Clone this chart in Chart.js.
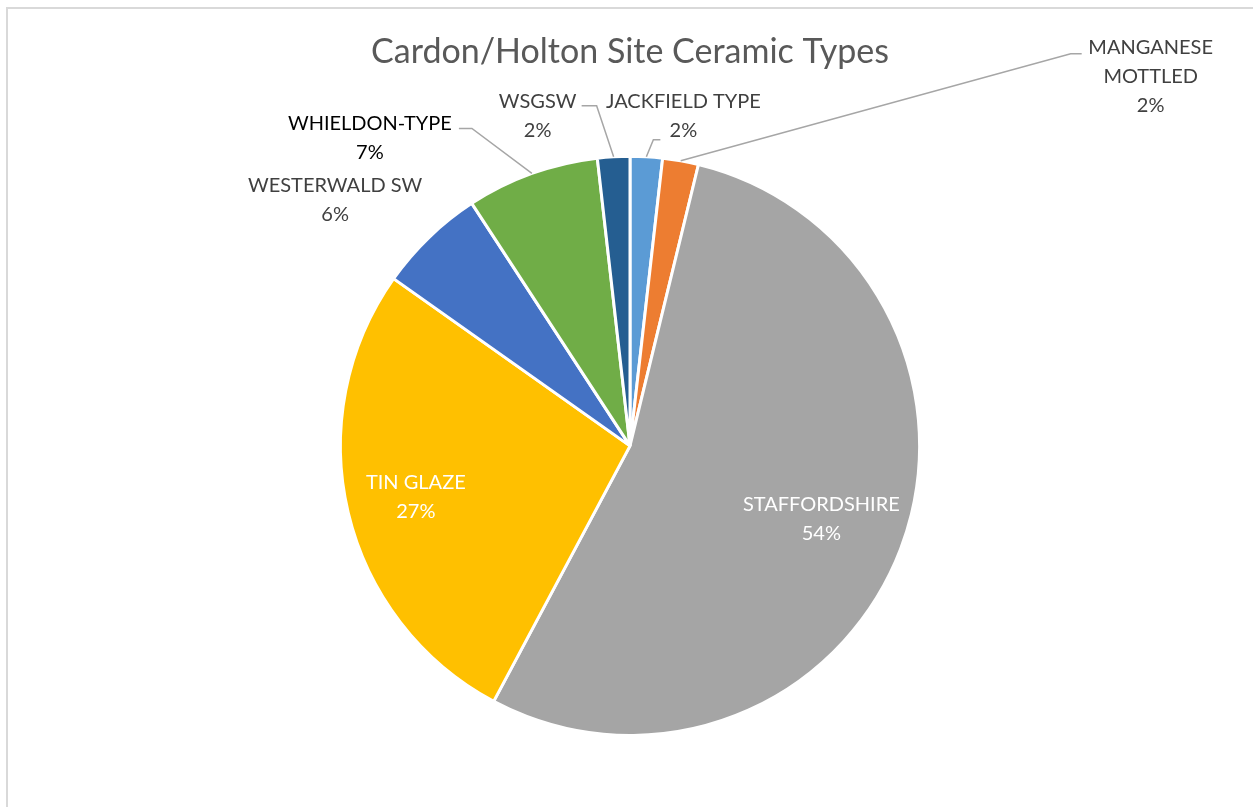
<!DOCTYPE html>
<html>
<head>
<meta charset="utf-8">
<script src="https://cdn.jsdelivr.net/npm/chart.js@4.4.1/dist/chart.umd.min.js"></script>
<style>
  html, body { margin: 0; padding: 0; background: #fff; overflow: hidden; }
  #frame { position: absolute; left: 6px; top: 7px; width: 1400px; height: 1000px; border: 2px solid #d9d9d9; box-sizing: border-box; }
  #wrap { position: absolute; left: 0; top: 0; width: 1253px; height: 807px; }
</style>
</head>
<body>
<div id="frame"></div>
<div id="wrap"><canvas id="ceramicChart"></canvas></div>
<script>
  const categories = ['JACKFIELD TYPE', 'MANGANESE MOTTLED', 'STAFFORDSHIRE', 'TIN GLAZE', 'WESTERWALD SW', 'WHIELDON-TYPE', 'WSGSW'];
  const shares = [1.8, 2.0, 54.0, 27.0, 6.0, 7.4, 1.8];
  const labelLines = [['JACKFIELD TYPE'], ['MANGANESE', 'MOTTLED'], ['STAFFORDSHIRE'], ['TIN GLAZE'], ['WESTERWALD SW'], ['WHIELDON-TYPE'], ['WSGSW']];
  const sliceColors = ['#5B9BD5', '#ED7D31', '#A5A5A5', '#FFC000', '#4472C4', '#70AD47', '#255E91'];

  // where each label sits, measured from the slice edge at its mid angle
  // (inside labels use a fraction of the radius instead)
  const placement = [
    { dx: 37, dy: -41, color: '#404040', leader: [[-23, 24], [-30, 24]] },
    { dx: 470, dy: -84, color: '#404040', leader: [[-69, -23], [-80, -23]] },
    { inside: 0.707, color: '#ffffff' },
    { inside: 0.76, color: '#ffffff' },
    { dx: -94, dy: -37, color: '#404040' },
    { dx: -162, dy: -35, color: '#000000', leader: [[89, -10], [102, -10]] },
    { dx: -76, dy: -41, color: '#404040', leader: [[44, -10], [59, -10]] }
  ];

  const total = shares.reduce((a, b) => a + b, 0);

  const pieLabels = {
    id: 'pieLabels',
    afterDatasetsDraw(chart) {
      const ctx = chart.ctx;
      const arcs = chart.getDatasetMeta(0).data;
      ctx.save();
      ctx.font = '20px Lato';
      ctx.textAlign = 'center';
      ctx.textBaseline = 'middle';
      arcs.forEach((arc, i) => {
        const p = placement[i];
        const mid = (arc.startAngle + arc.endAngle) / 2;
        const r = arc.outerRadius;
        let cx, cy;
        const ex = arc.x + Math.cos(mid) * r;
        const ey = arc.y + Math.sin(mid) * r;
        if (p.inside) {
          cx = arc.x + Math.cos(mid) * r * p.inside;
          cy = arc.y + Math.sin(mid) * r * p.inside;
        } else {
          cx = ex + p.dx;
          cy = ey + p.dy;
        }
        if (p.leader) {
          ctx.strokeStyle = '#a6a6a6';
          ctx.lineWidth = 1.5;
          ctx.beginPath();
          ctx.moveTo(cx + p.leader[0][0], cy + p.leader[0][1]);
          ctx.lineTo(cx + p.leader[1][0], cy + p.leader[1][1]);
          ctx.lineTo(ex, ey);
          ctx.stroke();
        }
        const pct = Math.round(shares[i] / total * 100) + '%';
        const lines = labelLines[i].concat([pct]);
        const lh = 29;
        const top = cy - (lines.length - 1) * lh / 2;
        ctx.fillStyle = p.color;
        lines.forEach((t, k) => ctx.fillText(t, cx, top + k * lh));
      });
      ctx.restore();
    }
  };

  new Chart(document.getElementById('ceramicChart'), {
    type: 'pie',
    data: {
      labels: categories,
      datasets: [{
        data: shares,
        backgroundColor: sliceColors,
        borderColor: '#ffffff',
        borderWidth: 3
      }]
    },
    options: {
      responsive: true,
      maintainAspectRatio: false,
      animation: false,
      layout: { padding: { left: 7, right: 0, top: 0, bottom: 70 } },
      plugins: {
        legend: { display: false },
        tooltip: { enabled: false },
        title: {
          display: true,
          text: 'Cardon/Holton Site Ceramic Types',
          color: '#595959',
          font: { family: 'Lato', size: 34, weight: 'normal' },
          padding: { top: 32, bottom: 82 }
        }
      }
    },
    plugins: [pieLabels]
  });
</script>
</body>
</html>
